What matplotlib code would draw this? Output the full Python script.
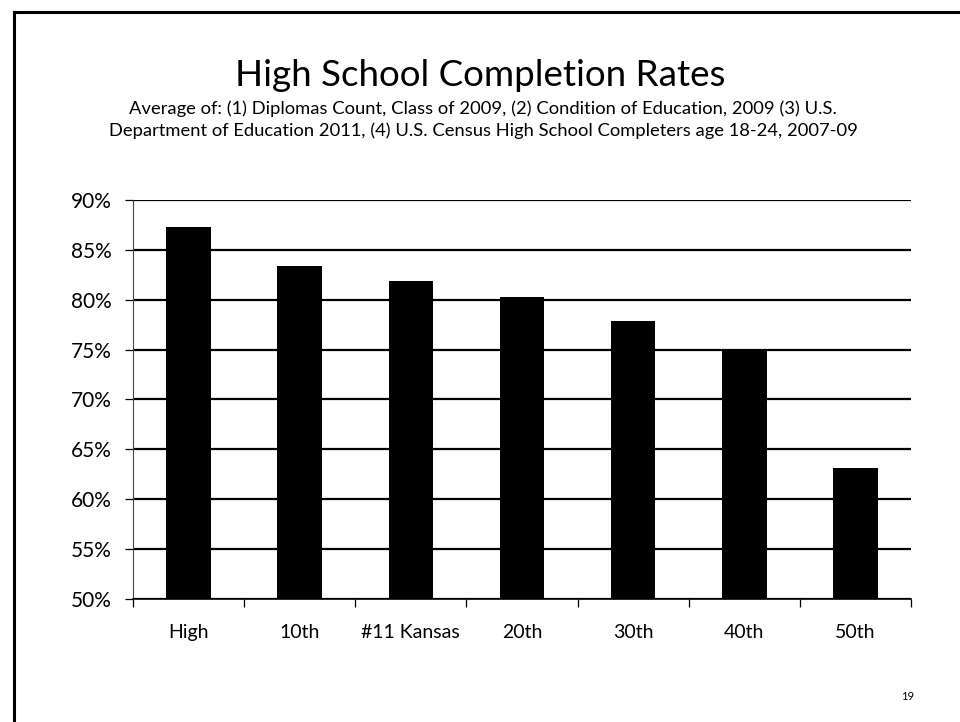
import matplotlib
matplotlib.use("Agg")
import matplotlib.pyplot as plt
from matplotlib.lines import Line2D
from matplotlib.ticker import FuncFormatter, FixedLocator

plt.rcParams['font.family'] = ['Lato', 'DejaVu Sans']

# Data
categories = ["High", "10th", "#11 Kansas", "20th", "30th", "40th", "50th"]
rates = [87.3, 83.4, 81.9, 80.3, 77.9, 75.0, 63.1]
y_ticks = [50, 55, 60, 65, 70, 75, 80, 85, 90]

title = "High School Completion Rates"
subtitle = ("Average of: (1) Diplomas Count, Class of 2009, (2) Condition of Education, 2009 (3) U.S.\n"
            "Department of Education 2011, (4) U.S. Census High School Completers age 18-24, 2007-09")

fig = plt.figure(figsize=(9.6, 7.22), dpi=100)
W, H = 960, 722

# slide border (left and top edges visible)
fig.add_artist(Line2D([14 / W, 14 / W], [0, 1 - 12 / H], color='black', lw=2.2, transform=fig.transFigure))
fig.add_artist(Line2D([14 / W, 1], [1 - 12 / H, 1 - 12 / H], color='black', lw=2.2, transform=fig.transFigure))

ax = fig.add_axes([133 / W, 1 - 599 / H, (911 - 133) / W, (599 - 200) / H])

x = list(range(len(categories)))
ax.bar(x, rates, width=0.4, color='black', zorder=3)

ax.set_ylim(50, 90)
ax.set_xlim(-0.5, len(categories) - 0.5)
ax.set_yticks(y_ticks)
ax.yaxis.set_major_formatter(FuncFormatter(lambda v, p: f"{v:.0f}%"))
ax.grid(axis='y', color='black', lw=1.6, zorder=1)
ax.set_axisbelow(True)

ax.set_xticks(x)
ax.set_xticklabels(categories)
ax.xaxis.set_minor_locator(FixedLocator([i - 0.5 for i in range(len(categories) + 1)]))
ax.tick_params(axis='x', which='major', length=0, pad=18, labelsize=14)
ax.tick_params(axis='x', which='minor', length=6, width=0.9, direction='out')
ax.tick_params(axis='y', length=6, width=0.9, pad=9, labelsize=15)

for s in ['top', 'right']:
    ax.spines[s].set_visible(False)
ax.spines['left'].set_linewidth(0.8)
ax.spines['left'].set_color('#444444')
ax.spines['bottom'].set_linewidth(1.2)

fig.text(480 / W, 1 - 76 / H, title, ha='center', va='center', fontsize=26.5)
fig.text(483 / W, 1 - 120 / H, subtitle, ha='center', va='center', fontsize=13.2, linespacing=1.4)
fig.text(908 / W, 1 - 696 / H, "19", ha='center', va='center', fontsize=8)

fig.savefig("out.png", dpi=100)
